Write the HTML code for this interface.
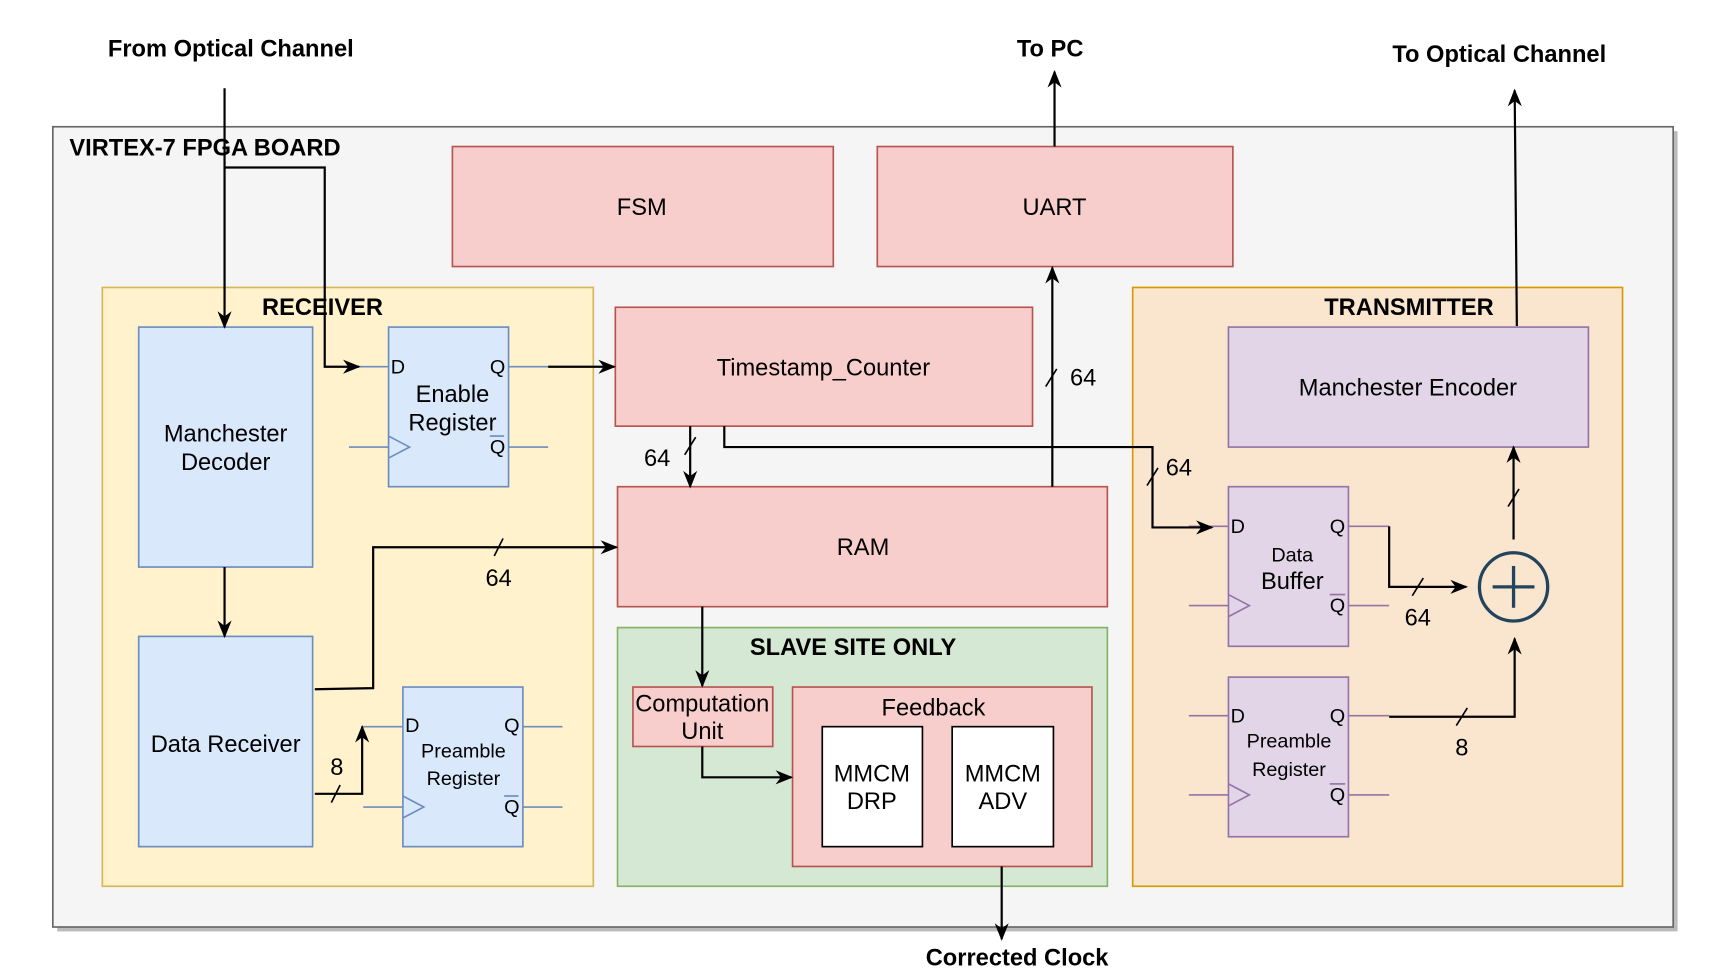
<!DOCTYPE html>
<html><head><meta charset="utf-8"><style>
html,body{margin:0;padding:0;background:#fff;}
svg{display:block;}
text{font-family:"Liberation Sans",Arial,sans-serif;fill:#000;}
.b{font-weight:bold;font-size:21.5px;}
.n{font-size:21.5px;}
.s{font-size:18px;}
</style></head><body>
<svg width="1726" height="980" viewBox="0 0 1568 890" xmlns="http://www.w3.org/2000/svg">
<defs>
<marker id="A" viewBox="0 0 10 10" refX="9" refY="5" markerWidth="16" markerHeight="16" markerUnits="userSpaceOnUse" orient="auto">
<path d="M0,1 L10,5 L0,9 L3,5 z" fill="#000"/></marker>
</defs>
<rect x="0" y="0" width="1568" height="890" fill="#fff"/>
<rect x="52" y="119" width="1472" height="727" fill="#bbb"/>
<rect x="48" y="115" width="1472" height="727" fill="#f5f5f5" stroke="#666" stroke-width="1.5"/>
<text class="b" x="63" y="141">VIRTEX-7 FPGA BOARD</text>

<rect x="411" y="133" width="346" height="109" fill="#f8cecc" stroke="#b85450" stroke-width="1.5"/>
<text class="n" x="583" y="195" text-anchor="middle">FSM</text>
<rect x="797" y="133" width="323" height="109" fill="#f8cecc" stroke="#b85450" stroke-width="1.5"/>
<text class="n" x="958" y="195" text-anchor="middle">UART</text>

<rect x="93" y="261" width="446" height="544" fill="#fff2cc" stroke="#d6b656" stroke-width="1.5"/>
<text class="b" x="293" y="286" text-anchor="middle">RECEIVER</text>
<rect x="126" y="297" width="158" height="218" fill="#dae8fc" stroke="#6c8ebf" stroke-width="1.5"/>
<text class="n" x="205" y="401" text-anchor="middle">Manchester</text>
<text class="n" x="205" y="427" text-anchor="middle">Decoder</text>
<rect x="126" y="578" width="158" height="191" fill="#dae8fc" stroke="#6c8ebf" stroke-width="1.5"/>
<text class="n" x="205" y="683" text-anchor="middle">Data Receiver</text>

<g stroke="#6c8ebf" stroke-width="1.5" fill="none">
<line x1="317" y1="333" x2="353" y2="333"/><line x1="462" y1="333" x2="498" y2="333"/>
<line x1="317" y1="406" x2="353" y2="406"/><line x1="462" y1="406" x2="498" y2="406"/>
<line x1="330" y1="660" x2="366" y2="660"/><line x1="475" y1="660" x2="511" y2="660"/>
<line x1="330" y1="733" x2="366" y2="733"/><line x1="475" y1="733" x2="511" y2="733"/>
</g>
<rect x="353" y="297" width="109" height="145" fill="#dae8fc" stroke="#6c8ebf" stroke-width="1.5"/>
<polyline points="353,396 372,406 353,416" fill="none" stroke="#6c8ebf" stroke-width="1.5"/>
<text class="s" x="355" y="339">D</text><text class="s" x="445" y="339">Q</text>
<text class="s" x="445" y="412">Q</text><line x1="445" y1="396" x2="458" y2="396" stroke="#6c8ebf" stroke-width="1.5"/>
<text class="n" x="411" y="365" text-anchor="middle">Enable</text>
<text class="n" x="411" y="391" text-anchor="middle">Register</text>

<rect x="366" y="624" width="109" height="145" fill="#dae8fc" stroke="#6c8ebf" stroke-width="1.5"/>
<polyline points="366,723 385,733 366,743" fill="none" stroke="#6c8ebf" stroke-width="1.5"/>
<text class="s" x="368" y="665">D</text><text class="s" x="458" y="665">Q</text>
<text class="s" x="458" y="739">Q</text><line x1="458" y1="723" x2="471" y2="723" stroke="#6c8ebf" stroke-width="1.5"/>
<text class="s" x="421" y="688" text-anchor="middle">Preamble</text>
<text class="s" x="421" y="713" text-anchor="middle">Register</text>

<rect x="559" y="279" width="379" height="108" fill="#f8cecc" stroke="#b85450" stroke-width="1.5"/>
<text class="n" x="748" y="341" text-anchor="middle">Timestamp_Counter</text>
<rect x="561" y="442" width="445" height="109" fill="#f8cecc" stroke="#b85450" stroke-width="1.5"/>
<text class="n" x="784" y="504" text-anchor="middle">RAM</text>
<rect x="561" y="570" width="445" height="235" fill="#d5e8d4" stroke="#82b366" stroke-width="1.5"/>
<text class="b" x="775" y="595" text-anchor="middle">SLAVE SITE ONLY</text>
<rect x="575" y="624" width="127" height="54" fill="#f8cecc" stroke="#b85450" stroke-width="1.5"/>
<text class="n" x="638" y="646" text-anchor="middle">Computation</text>
<text class="n" x="638" y="671" text-anchor="middle">Unit</text>
<rect x="720" y="624" width="272" height="163" fill="#f8cecc" stroke="#b85450" stroke-width="1.5"/>
<text class="n" x="848" y="650" text-anchor="middle">Feedback</text>
<rect x="747" y="660" width="91" height="109" fill="#fff" stroke="#000" stroke-width="1.5"/>
<text class="n" x="792" y="710" text-anchor="middle">MMCM</text><text class="n" x="792" y="735" text-anchor="middle">DRP</text>
<rect x="865" y="660" width="92" height="109" fill="#fff" stroke="#000" stroke-width="1.5"/>
<text class="n" x="911" y="710" text-anchor="middle">MMCM</text><text class="n" x="911" y="735" text-anchor="middle">ADV</text>

<rect x="1029" y="261" width="445" height="544" fill="#fae6cf" stroke="#d79b00" stroke-width="1.5"/>
<text class="b" x="1280" y="286" text-anchor="middle">TRANSMITTER</text>
<rect x="1116" y="297" width="327" height="109" fill="#e1d5e7" stroke="#9673a6" stroke-width="1.5"/>
<text class="n" x="1279" y="359" text-anchor="middle">Manchester Encoder</text>
<g stroke="#9673a6" stroke-width="1.5" fill="none">
<line x1="1080" y1="478" x2="1116" y2="478"/><line x1="1225" y1="478" x2="1262" y2="478"/>
<line x1="1080" y1="550" x2="1116" y2="550"/><line x1="1225" y1="550" x2="1262" y2="550"/>
<line x1="1080" y1="650" x2="1116" y2="650"/><line x1="1225" y1="650" x2="1262" y2="650"/>
<line x1="1080" y1="722" x2="1116" y2="722"/><line x1="1225" y1="722" x2="1262" y2="722"/>
</g>
<rect x="1116" y="442" width="109" height="145" fill="#e1d5e7" stroke="#9673a6" stroke-width="1.5"/>
<polyline points="1116,540 1135,550 1116,560" fill="none" stroke="#9673a6" stroke-width="1.5"/>
<text class="s" x="1118" y="484">D</text><text class="s" x="1208" y="484">Q</text>
<text class="s" x="1208" y="556">Q</text><line x1="1208" y1="540" x2="1222" y2="540" stroke="#9673a6" stroke-width="1.5"/>
<text x="1174" y="510" text-anchor="middle" style="font-size:18px">Data</text>
<text class="n" x="1174" y="535" text-anchor="middle">Buffer</text>
<rect x="1116" y="615" width="109" height="145" fill="#e1d5e7" stroke="#9673a6" stroke-width="1.5"/>
<polyline points="1116,712 1135,722 1116,732" fill="none" stroke="#9673a6" stroke-width="1.5"/>
<text class="s" x="1118" y="656">D</text><text class="s" x="1208" y="656">Q</text>
<text class="s" x="1208" y="728">Q</text><line x1="1208" y1="712" x2="1222" y2="712" stroke="#9673a6" stroke-width="1.5"/>
<text class="s" x="1171" y="679" text-anchor="middle">Preamble</text>
<text class="s" x="1171" y="705" text-anchor="middle">Register</text>
<circle cx="1375" cy="533" r="31" fill="none" stroke="#23445d" stroke-width="3"/>
<line x1="1356" y1="533" x2="1394" y2="533" stroke="#23445d" stroke-width="3"/>
<line x1="1375" y1="514" x2="1375" y2="552" stroke="#23445d" stroke-width="3"/>

<g stroke="#000" stroke-width="2" fill="none">
<line x1="204" y1="80" x2="204" y2="297" marker-end="url(#A)"/>
<polyline points="204,152 295,152 295,333 326,333" marker-end="url(#A)"/>
<line x1="958" y1="133" x2="958" y2="65" marker-end="url(#A)"/>
<line x1="1378" y1="296" x2="1376" y2="82" marker-end="url(#A)"/>
<line x1="498" y1="333" x2="558" y2="333" marker-end="url(#A)"/>
<line x1="204" y1="515" x2="204" y2="578" marker-end="url(#A)"/>
<polyline points="286,626 339,625 339,497 560,497" marker-end="url(#A)"/>
<polyline points="286,721 329,721 329,660" marker-end="url(#A)"/>
<line x1="627" y1="387" x2="627" y2="442" marker-end="url(#A)"/>
<polyline points="658,387 658,406 1047,406 1047,479 1101,479" marker-end="url(#A)"/>
<line x1="956" y1="442" x2="956" y2="243" marker-end="url(#A)"/>
<line x1="638" y1="551" x2="638" y2="623" marker-end="url(#A)"/>
<polyline points="638,678 638,706 719,706" marker-end="url(#A)"/>
<line x1="910" y1="787" x2="910" y2="853" marker-end="url(#A)"/>
<polyline points="1262,478 1262,533 1332,533" marker-end="url(#A)"/>
<line x1="1375" y1="490" x2="1375" y2="406" marker-end="url(#A)"/>
<polyline points="1262,651 1376,651 1376,580" marker-end="url(#A)"/>
</g>
<g stroke="#000" stroke-width="1.5">
<line x1="449" y1="505" x2="457" y2="489"/>
<line x1="301" y1="729" x2="309" y2="713"/>
<line x1="622" y1="413" x2="632" y2="397"/>
<line x1="1042" y1="441" x2="1052" y2="425"/>
<line x1="950" y1="351" x2="960" y2="335"/>
<line x1="1283" y1="541" x2="1293" y2="525"/>
<line x1="1370" y1="460" x2="1380" y2="444"/>
<line x1="1323" y1="659" x2="1333" y2="643"/>
</g>
<text class="n" x="453" y="532" text-anchor="middle">64</text>
<text class="n" x="306" y="704" text-anchor="middle">8</text>
<text class="n" x="597" y="423" text-anchor="middle">64</text>
<text class="n" x="1071" y="432" text-anchor="middle">64</text>
<text class="n" x="984" y="350" text-anchor="middle">64</text>
<text class="n" x="1288" y="568" text-anchor="middle">64</text>
<text class="n" x="1328" y="686" text-anchor="middle">8</text>

<text class="b" x="98" y="51">From Optical Channel</text>
<text class="b" x="954" y="51" text-anchor="middle">To PC</text>
<text class="b" x="1362" y="56" text-anchor="middle">To Optical Channel</text>
<text class="b" x="924" y="877" text-anchor="middle">Corrected Clock</text>
</svg>
</body></html>
